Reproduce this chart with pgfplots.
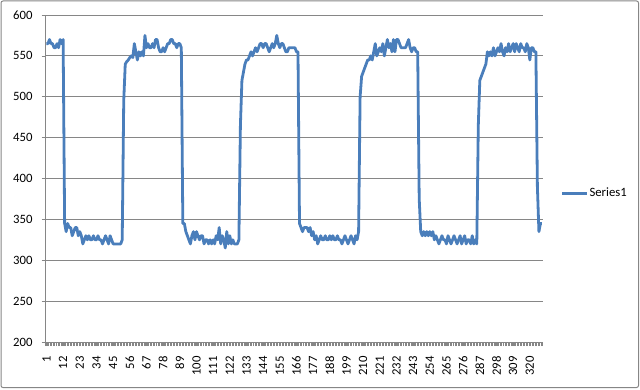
\documentclass[border=0pt]{standalone}
\usepackage{fontspec}
\setmainfont{Carlito}
\usepackage{pgfplots}
\pgfplotsset{compat=1.18}
\definecolor{serblue}{RGB}{74,126,187}
\definecolor{gridgray}{RGB}{134,134,134}
\begin{document}
\begin{tikzpicture}[x=1pt,y=1pt]
\useasboundingbox (0,0) rectangle (640,389);
\draw[gridgray, line width=1pt, rounded corners=2pt] (1,1.5) rectangle (638.5,388);
\begin{axis}[
 at={(45.7pt,47pt)}, anchor=south west,
 scale only axis, width=497pt, height=327pt,
 xmin=0.5, xmax=328.5, ymin=200, ymax=600,
 axis x line*=bottom, axis y line*=left,
 axis line style={gridgray, line width=0.8pt, -},
 ytick={200,250,...,600},
 ymajorgrids, major grid style={gridgray, line width=0.8pt},
 xtick={1,12,...,320},
 minor xtick={0.5,1.5,...,328.5},
 tick align=outside, major tick length=4pt, minor tick length=4pt,
 tick style={gridgray, line width=0.6pt},
 /pgf/number format/assume math mode=true,
 ticklabel style={font=\fontsize{12.7}{14}\selectfont, text=black},
 yticklabel style={inner sep=0pt, anchor=east, xshift=-9pt},
 xticklabel style={inner sep=0pt, yshift=-10pt, rotate=90, anchor=east},
 legend style={at={(1.036,0.4547)}, anchor=west, draw=none, fill=none,
   font=\fontsize{12.7}{14}\selectfont, inner sep=0pt, row sep=0pt,
   nodes={inner sep=1pt}},
 legend image code/.code={\draw[#1] (0pt,0pt) -- (25pt,0pt);},
]
\addplot[serblue, line width=2.8pt, line join=round] coordinates {
(1,565)(2,565)(3,570)(4,565)(5,565)(6,560)(7,560)(8,565)(9,560)(10,570)(11,565)(12,570)
(13,345)(14,335)(15,345)(16,340)(17,340)(18,330)(19,335)(20,340)(21,340)(22,330)(23,335)(24,330)(25,320)(26,325)(27,330)(28,325)(29,330)(30,325)(31,325)(32,330)(33,325)(34,325)(35,330)(36,325)(37,325)(38,320)(39,325)(40,330)(41,325)(42,320)(43,330)(44,325)(45,320)(46,320)(47,320)(48,320)(49,320)(50,320)(51,325)
(52,495)(53,540)(54,543)(55,545)(56,548)(57,550)(58,548)(59,565)(60,555)(61,545)(62,555)(63,550)(64,555)(65,550)(66,575)(67,560)(68,565)(69,560)(70,560)(71,565)(72,560)(73,570)(74,570)(75,560)(76,555)(77,555)(78,560)(79,555)(80,560)(81,565)(82,565)(83,570)(84,570)(85,565)(86,565)(87,560)(88,565)(89,565)(90,560)
(91,345)(92,345)(93,335)(94,330)(95,325)(96,320)(97,330)(98,335)(99,325)(100,335)(101,330)(102,325)(103,330)(104,330)(105,320)(106,325)(107,325)(108,320)(109,325)(110,320)(111,325)(112,320)(113,330)(114,325)(115,340)(116,320)(117,330)(118,325)(119,315)(120,335)(121,320)(122,330)(123,320)(124,325)(125,320)(126,320)(127,320)(128,325)
(129,465)(130,520)(131,530)(132,540)(133,545)(134,545)(135,550)(136,555)(137,550)(138,555)(139,560)(140,555)(141,560)(142,565)(143,565)(144,560)(145,565)(146,565)(147,560)(148,555)(149,560)(150,565)(151,560)(152,565)(153,575)(154,565)(155,560)(156,565)(157,565)(158,560)(159,555)(160,555)(161,560)(162,560)(163,560)(164,560)(165,560)(166,555)(167,555)
(168,345)(169,340)(170,335)(171,340)(172,340)(173,340)(174,335)(175,340)(176,330)(177,335)(178,325)(179,330)(180,320)(181,325)(182,330)(183,325)(184,325)(185,330)(186,325)(187,325)(188,330)(189,325)(190,330)(191,325)(192,325)(193,330)(194,325)(195,325)(196,320)(197,325)(198,330)(199,325)(200,320)(201,325)(202,330)(203,325)(204,320)(205,330)(206,325)(207,335)
(208,500)(209,525)(210,530)(211,535)(212,540)(213,545)(214,545)(215,550)(216,545)(217,555)(218,565)(219,550)(220,555)(221,560)(222,555)(223,565)(224,550)(225,560)(226,570)(227,560)(228,565)(229,555)(230,570)(231,555)(232,570)(233,570)(234,565)(235,560)(236,560)(237,560)(238,560)(239,565)(240,570)(241,560)(242,555)(243,560)(244,560)(245,555)(246,555)
(247,375)(248,335)(249,330)(250,335)(251,330)(252,335)(253,330)(254,335)(255,330)(256,335)(257,325)(258,330)(259,325)(260,320)(261,325)(262,330)(263,325)(264,325)(265,320)(266,330)(267,325)(268,320)(269,325)(270,330)(271,325)(272,320)(273,325)(274,330)(275,320)(276,325)(277,330)(278,320)(279,325)(280,325)(281,320)(282,330)(283,320)(284,325)(285,320)
(286,465)(287,520)(288,525)(289,530)(290,535)(291,540)(292,555)(293,550)(294,555)(295,550)(296,560)(297,550)(298,555)(299,560)(300,555)(301,565)(302,555)(303,550)(304,560)(305,555)(306,565)(307,555)(308,560)(309,565)(310,555)(311,565)(312,560)(313,555)(314,565)(315,560)(316,560)(317,555)(318,565)(319,560)(320,545)(321,560)(322,560)(323,555)(324,555)
(325,390)(326,335)(327,345)(328,345)
};
\addlegendentry{Series1}
\end{axis}
\end{tikzpicture}
\end{document}
